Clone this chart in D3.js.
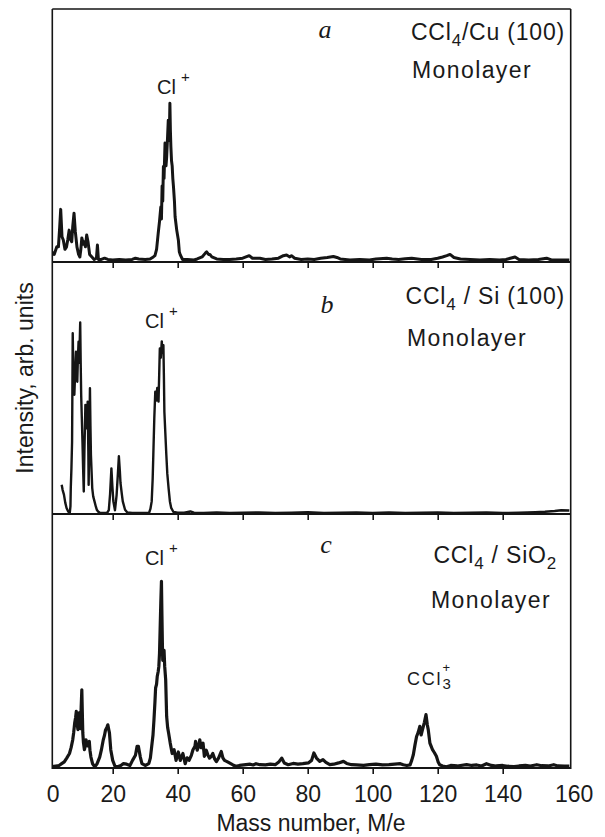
<!DOCTYPE html>
<html>
<head>
<meta charset="utf-8">
<script src="https://cdn.jsdelivr.net/npm/d3@7"></script>
<style>
  html, body { margin: 0; padding: 0; background: #fff; }
  svg { display: block; }
  text { font-family: "Liberation Sans", Arial, Helvetica, sans-serif; fill: #1a1a1a; }
</style>
</head>
<body>
<script>
// ---------- DATA ----------
const tickValues = [0, 20, 40, 60, 80, 100, 120, 140, 160];
const xLabel = "Mass number, M/e";
const yLabel = "Intensity, arb. units";
const panelLetters = ["a", "b", "c"];

// Panel a: CCl4/Cu(100)
const massA = [1.3,2.0,2.8,3.3,3.7,4.0,4.4,4.8,5.3,5.8,6.2,6.6,7.0,7.4,7.7,8.1,8.5,9.0,9.5,9.9,10.2,10.5,11.0,11.3,11.6,12.0,12.4,12.9,13.6,14.3,15.0,15.3,15.6,16.5,17.5,18.5,20,22,24,26,27,28,30,31.5,32.5,33.0,33.5,34.0,34.4,34.8,35.0,35.2,35.4,35.6,35.8,36.1,36.4,36.6,36.9,37.1,37.4,37.6,37.75,37.9,38.1,38.3,38.5,38.7,39.0,39.2,39.7,40.2,40.5,40.8,41.5,43,45,46,47.5,48.5,48.9,49.5,49.9,50.5,52,54,56,58,60,61,62,63,65.3,67,69,71,72.5,73.5,74.5,75,76,78,80,82,84,86,87.9,89,90,93,96,99,101,104.3,106,108,110,112,115,118,120,121.5,122.8,123.8,125,127,130,133,136,139,141,143.8,145,148,151,153.5,155,158,160.5];
const intA  = [4,3,6,6,14,20.8,10,8.7,5,6,9,12.6,9,8,14,19.3,12,6,3,2,5,9.5,7,8,6,10.7,8,3,2,1,1.5,6.7,1,1,1.5,1,0.8,1,0.8,1,1.5,1.2,1,1.2,2,2.5,5,11.3,16,21.7,17,30,24,37.7,33,47,38,41.4,50,56,48,62.7,52,45.6,40,38,33,29.8,24,17.9,12.6,8.7,4,2.8,1,1,0.8,1.2,2,3.5,4,3,3,2,1.2,1,1,1.2,1.5,2,2.5,1.5,1.5,1,1.2,1.5,2.5,2.8,2,2.5,1.5,1,1.2,1,1.5,1.8,2.2,1.8,1.2,0.8,1,0.8,1.2,1.5,1.2,1,1.3,1.5,1,1,1.5,2,2.5,3,1.8,1.2,1,0.8,1,0.8,1,2,1,0.8,1,1.5,0.8,0.8,0.8];

// Panel b: CCl4/Si(100)
const massB = [4.3,4.6,5.0,5.4,5.8,6.3,6.8,7.0,7.1,7.3,7.5,7.6,7.7,7.9,8.2,8.5,8.7,8.9,9.1,9.3,9.5,9.7,10.0,10.15,10.3,10.5,10.7,10.9,11.1,11.3,11.6,11.9,12.1,12.3,12.5,12.6,12.8,13.0,13.15,13.3,13.7,14.0,14.4,14.8,15.1,15.5,16,17,18.3,18.8,19.2,19.6,19.9,20.2,20.7,21.2,21.6,21.9,22.2,22.4,22.8,23.1,23.8,24.5,26,28,30,31.2,31.6,32.0,32.3,32.5,32.8,33.1,33.4,33.7,33.9,34.1,34.3,34.5,34.8,35.1,35.3,35.6,35.75,35.9,36.2,36.5,36.8,37.2,37.6,38.0,38.7,40,42,43.9,45,48,52,56,60,65,70,75,80,85,90,95,100,105,110,115,120,125,130,135,140,145,150,153,156,158,160.5];
const intB  = [11.6,9.5,7.7,4.5,2.4,1,0.5,3,10.2,18,28.7,50,71.7,55,47.3,58,64.4,55,52.5,62,68.4,60,76,60,47.3,38,28.7,18,8.9,25,43.3,34,38,44.6,25,11.6,30,49.9,35,23.5,10.3,7,5,3,1.7,1,0.5,0.4,0.5,1.5,8,18.1,11,5,1.5,7.5,16,22.9,17,12.3,8,5,1.7,0.6,0.4,0.4,0.4,0.5,2,5,14,23.5,38,48.5,45,50,47,44.6,55,65.7,62,68.5,64,67,55,40.6,32,23.5,16,10.2,5,2.4,0.8,0.5,0.5,1,0.5,0.4,0.6,0.4,0.5,0.6,0.4,0.5,0.7,0.4,0.5,0.6,0.4,0.6,0.4,0.5,0.6,0.4,0.5,0.6,0.4,0.5,0.7,0.9,1.2,1.5,1.4];

// Panel c: CCl4/SiO2
const massC = [1.3,2.5,3.5,4.3,5.1,5.9,6.7,7.2,7.7,8.0,8.3,8.6,8.8,9.0,9.3,9.5,9.7,9.9,10.1,10.3,10.5,10.65,10.8,11.0,11.3,11.6,11.8,12.0,12.3,12.6,12.8,13.0,13.3,13.8,14.5,15.2,16.0,16.5,17.1,17.5,17.8,18.2,18.5,18.8,19.0,19.4,20.0,20.7,21.5,22.5,23.3,24.3,25.3,26.1,27.0,27.5,27.9,28.5,29.0,30.0,31.1,31.6,32.0,32.4,32.7,33.0,33.2,33.5,33.7,34.0,34.2,34.4,34.6,34.8,35.0,35.15,35.3,35.4,35.6,35.8,36.0,36.3,36.6,36.9,37.2,37.7,38.3,38.9,39.5,40.2,40.8,41.2,41.6,42.3,42.9,43.5,44.2,44.7,45.3,45.5,46.0,46.5,46.8,47.2,47.8,48.2,48.8,49.3,49.8,50.3,50.8,51.4,51.9,52.6,53.4,53.9,54.4,55.2,55.9,57,57.9,59,61,62.3,63.2,64.1,65.3,67,68.5,70,71.2,72,72.8,74,75.5,77,78.5,80.2,81.2,81.9,82.7,83.7,84.7,85.6,86.8,88,89.5,91,92,93.5,95,97.2,99,101,103,105,106.8,108.5,109.4,110.5,111.5,112.0,112.5,113.0,113.5,114.0,114.5,114.9,115.3,115.9,116.4,116.8,117.1,117.6,118.0,118.4,119.0,119.6,120.1,120.6,121.5,122.7,124,126,128.9,130.5,132,133.5,135,136.5,138,140,141.5,143.5,145,147,148.5,150.5,152,154,155.7,157,159,160.5];
const intC  = [0.5,0.8,1,1.7,2.4,4,5.7,8,11.1,14,17.7,20,22.3,18,15.1,19,21.7,18,15.5,24,30.8,22,13.8,10,7.2,9,11.1,9,8.7,10,10.5,7,4.3,1.7,0.5,1.7,4.3,7,11.1,13,15,16,17,15,13.8,7.2,3,0.7,0.5,1,1.7,1.5,1,3,5,8.5,8.5,4.3,1.7,1,1.7,4,8.5,13,19,26,31.5,33,36,38,40,45,55,65,73.5,60,48,42.4,45,46.3,40,34.8,20.3,16,13.8,9.8,5.7,7.2,3,6.3,3,4.5,5.7,1.7,4,3,5,7.2,8.5,10.5,7,9,11.1,8,9.8,4.6,7,5,3.9,4.5,5.7,3.5,2.5,4,6.5,4,3,2.5,2,1.2,0.7,1,1.3,1.5,1.2,1.7,1.3,1.2,1.5,1.3,2.5,3.9,2,1.3,1.8,1.5,1.7,2,3,5.9,3.9,2.6,3.3,2.2,1.3,1.5,2,2.6,1.8,1.3,1.2,1,1.3,1.5,1.2,1.3,1.5,1.7,1.3,1,1.2,3,5.2,9,12.4,14,16.4,13,15,18,21,17,15,9.8,8.5,7.2,6,4.6,2.5,1.3,0.8,0.5,1,0.8,1.3,1,1.2,0.8,1.7,1,0.8,1,0.7,0.6,0.8,1,0.8,1.3,0.9,0.8,1.3,0.8,0.7,0.7];

// ---------- LAYOUT ----------
const W = 605, H = 837;
const frameL = 52.3, frameR = 570.7;
const panels = [
  { top: 9,   bottom: 262, mass: massA, inten: intA, sw: 3.0 },
  { top: 262, bottom: 514, mass: massB, inten: intB, sw: 2.4 },
  { top: 514, bottom: 768, mass: massC, inten: intC, sw: 3.2 }
];

const svg = d3.select("body").append("svg").attr("width", W).attr("height", H);
svg.append("rect").attr("width", W).attr("height", H).attr("fill", "#fff");

const x = d3.scaleLinear().domain([0, 160]).range([47.7, 567.7]);

const defs = svg.append("defs");
defs.append("clipPath").attr("id", "frameClip")
  .append("rect").attr("x", frameL).attr("y", 0).attr("width", frameR - frameL).attr("height", H);

panels.forEach((p, i) => {
  const y = d3.scaleLinear().domain([0, 100]).range([p.bottom, p.top]);
  const pts = p.mass.map((m, k) => [m, p.inten[k]]);
  const line = d3.line().x(d => x(d[0])).y(d => y(d[1]));
  svg.append("path")
    .attr("clip-path", "url(#frameClip)")
    .attr("d", line(pts))
    .attr("fill", "none")
    .attr("stroke", "#151515")
    .attr("stroke-width", p.sw)
    .attr("stroke-linejoin", "round");

  const last = i === panels.length - 1;
  const axis = d3.axisBottom(x)
    .tickValues(tickValues)
    .tickSize(6)
    .tickSizeOuter(0)
    .tickPadding(12)
    .tickFormat(last ? d3.format("d") : () => "");
  const g = svg.append("g").attr("transform", `translate(0,${p.bottom})`).call(axis);
  g.select(".domain").attr("stroke", "#151515").attr("stroke-width", 2.2)
    .attr("d", `M${frameL},0H${frameR}`);
  g.selectAll(".tick line").attr("stroke", "#151515").attr("stroke-width", 1.6)
    .filter(d => d === 0 || d === 160).remove();
  g.selectAll(".tick text")
    .style("font-size", "23px").attr("fill", "#1a1a1a")
    .attr("dx", d => d === 0 ? 5 : (d === 160 ? 6 : 0));
});

// frame sides and top
const frame = svg.append("g").attr("stroke", "#151515").attr("fill", "none");
frame.append("line").attr("x1", frameL).attr("x2", frameL).attr("y1", 9).attr("y2", 769).attr("stroke-width", 1.6);
frame.append("line").attr("x1", frameR).attr("x2", frameR).attr("y1", 9).attr("y2", 769).attr("stroke-width", 1.6);
frame.append("line").attr("x1", frameL).attr("x2", frameR).attr("y1", 9).attr("y2", 9).attr("stroke-width", 1.6);

// axis titles
svg.append("text").attr("x", 311).attr("y", 831).attr("text-anchor", "middle")
  .style("font-size", "23px").text(xLabel);
svg.append("text").attr("transform", "translate(33,378) rotate(-90)").attr("text-anchor", "middle")
  .style("font-size", "23px").text(yLabel);

// panel letters
const letterPos = [[325, 38], [327, 313], [326, 553]];
panelLetters.forEach((l, i) => {
  svg.append("text").attr("x", letterPos[i][0]).attr("y", letterPos[i][1])
    .attr("text-anchor", "middle")
    .style("font-family", "'Liberation Serif', 'Times New Roman', serif")
    .style("font-style", "italic").style("font-size", "26px").text(l);
});

// sample titles
function title(xEnd, yBase, pre, sub, post, anchor) {
  const t = svg.append("text").attr("x", xEnd).attr("y", yBase).attr("text-anchor", anchor)
    .style("font-size", "23px").style("letter-spacing", "0.8px");
  t.append("tspan").text(pre);
  t.append("tspan").attr("dy", 6).style("font-size", "17px").text(sub);
  t.append("tspan").attr("dy", -6).text(post);
  return t;
}
title(565, 40, "CCl", "4", "/Cu (100)", "end");
title(565, 304, "CCl", "4", " / Si (100)", "end");
{
  const t = svg.append("text").attr("x", 557).attr("y", 563).attr("text-anchor", "end")
    .style("font-size", "23px").style("letter-spacing", "0.8px");
  t.append("tspan").text("CCl");
  t.append("tspan").attr("dy", 6).style("font-size", "17px").text("4");
  t.append("tspan").attr("dy", -6).text(" / SiO");
  t.append("tspan").attr("dy", 6).style("font-size", "17px").text("2");
}
const monoPos = [[472, 78], [467, 346], [491, 608]];
monoPos.forEach(p => {
  svg.append("text").attr("x", p[0]).attr("y", p[1]).attr("text-anchor", "middle")
    .style("font-size", "23px").style("letter-spacing", "1.4px").text("Monolayer");
});

// ion labels
const clPos = [[157, 94], [145, 328], [145, 565]];
clPos.forEach(p => {
  const t = svg.append("text").attr("x", p[0]).attr("y", p[1]).style("font-size", "20px");
  t.append("tspan").text("Cl");
  t.append("tspan").attr("dx", 5).attr("dy", -12).style("font-size", "15px").text("+");
});
{
  const t = svg.append("text").attr("x", 407).attr("y", 685)
    .style("font-size", "18px").style("letter-spacing", "1.8px");
  t.append("tspan").text("CCl");
  t.append("tspan").attr("dy", 4).style("font-size", "15px").text("3");
  t.append("tspan").attr("dx", -10).attr("dy", -17).style("font-size", "13px").text("+");
}
</script>
</body>
</html>
